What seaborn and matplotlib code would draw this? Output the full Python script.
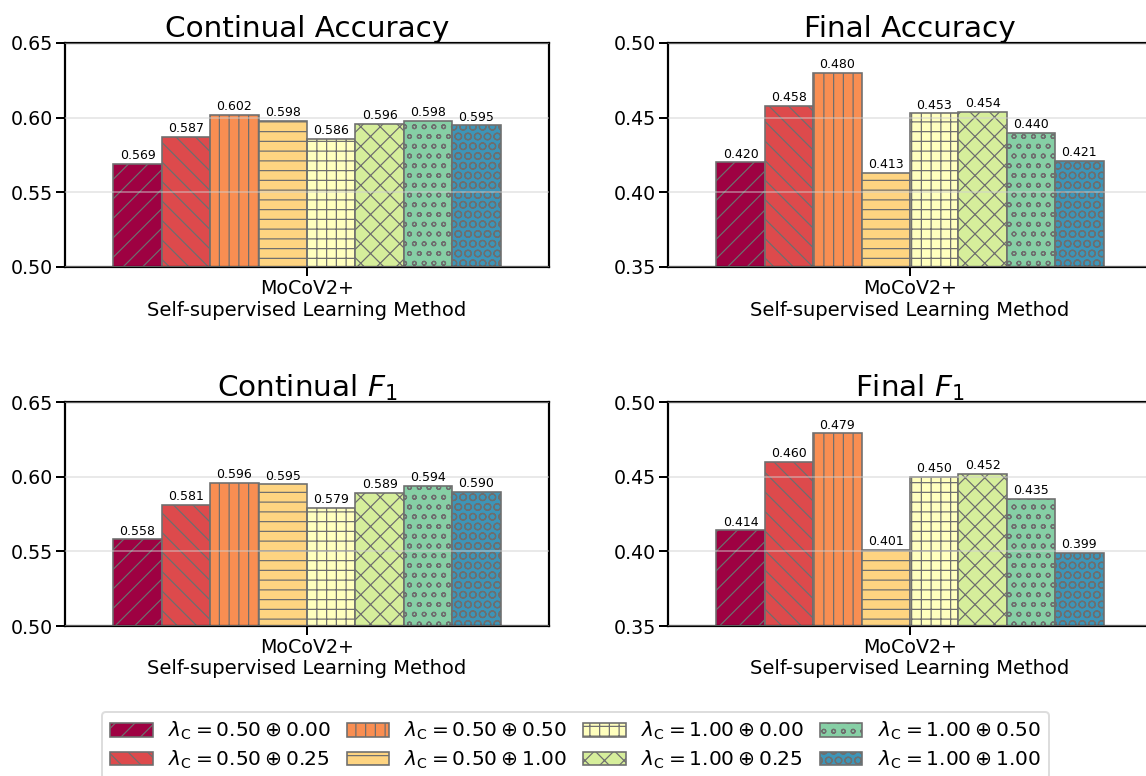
import matplotlib
matplotlib.use("Agg")
import matplotlib.pyplot as plt
import matplotlib.patches as mpatches
import seaborn as sns
import pandas as pd
import numpy as np

DPI = 117
W, H = 1146, 776

def px(v):
    return v * 72.0 / DPI

methods = ["MoCoV2+"]
configs = ["0.50 ⊕ 0.00", "0.50 ⊕ 0.25", "0.50 ⊕ 0.50", "0.50 ⊕ 1.00",
           "1.00 ⊕ 0.00", "1.00 ⊕ 0.25", "1.00 ⊕ 0.50", "1.00 ⊕ 1.00"]
legend_labels = [r"$\lambda_{\mathrm{C}} = 0.50 \oplus 0.00$", r"$\lambda_{\mathrm{C}} = 0.50 \oplus 0.25$",
                 r"$\lambda_{\mathrm{C}} = 0.50 \oplus 0.50$", r"$\lambda_{\mathrm{C}} = 0.50 \oplus 1.00$",
                 r"$\lambda_{\mathrm{C}} = 1.00 \oplus 0.00$", r"$\lambda_{\mathrm{C}} = 1.00 \oplus 0.25$",
                 r"$\lambda_{\mathrm{C}} = 1.00 \oplus 0.50$", r"$\lambda_{\mathrm{C}} = 1.00 \oplus 1.00$"]

continual_acc = [0.569, 0.587, 0.602, 0.598, 0.586, 0.596, 0.598, 0.595]
final_acc = [0.420, 0.458, 0.480, 0.413, 0.453, 0.454, 0.440, 0.421]
continual_f1 = [0.558, 0.581, 0.596, 0.595, 0.579, 0.589, 0.594, 0.590]
final_f1 = [0.414, 0.460, 0.479, 0.401, 0.450, 0.452, 0.435, 0.399]

titles = ["Continual Accuracy", "Final Accuracy", r"Continual $F_1$", r"Final $F_1$"]
ylims = [(0.50, 0.65), (0.35, 0.50), (0.50, 0.65), (0.35, 0.50)]
yticks = [[0.50, 0.55, 0.60, 0.65], [0.35, 0.40, 0.45, 0.50],
          [0.50, 0.55, 0.60, 0.65], [0.35, 0.40, 0.45, 0.50]]
hatches = ["//", "\\\\", "||", "--", "++", "xx", "oo", "OO"]
xlabel = "Self-supervised Learning Method"

sns.set_style("white")
plt.rcParams["font.family"] = ["DejaVu Sans"]
plt.rcParams["hatch.linewidth"] = 0.75
for k in ["text.color", "axes.labelcolor", "xtick.color", "ytick.color"]:
    plt.rcParams[k] = "black"
EDGE = "#6e6e6e"
plt.rcParams["hatch.color"] = EDGE

cmap = matplotlib.colormaps["Spectral"]
palette = [cmap(v) for v in np.linspace(0, 1, len(configs) + 1)[:len(configs)]]

fig = plt.figure(figsize=(W / DPI, H / DPI), dpi=DPI)
rects = [(65, 43, 484, 224), (668, 43, 484, 224), (65, 402, 484, 224), (668, 402, 484, 224)]
series = [continual_acc, final_acc, continual_f1, final_f1]

for rect, vals, title, ylim, yt in zip(rects, series, titles, ylims, yticks):
    l, t, w, h = rect
    ax = fig.add_axes([l / W, 1 - (t + h) / H, w / W, h / H])
    df = pd.DataFrame({"method": methods * len(configs), "config": configs, "value": vals})
    sns.barplot(data=df, x="method", y="value", hue="config", hue_order=configs,
                palette=palette, saturation=1, ax=ax, edgecolor=EDGE, linewidth=1.0,
                legend=False, errorbar=None, width=0.8)
    for cont, hatch in zip(ax.containers, hatches):
        for bar in cont:
            bar.set_hatch(hatch)
            bar.set_edgecolor(EDGE)
        ax.bar_label(cont, fmt="%.3f", fontsize=px(12.5), padding=1)
    ax.set_xlim(-0.5, 0.5)
    ax.set_ylim(*ylim)
    ax.set_yticks(yt)
    ax.set_yticklabels([f"{v:.2f}" for v in yt])
    ax.set_title(title, fontsize=px(29.5), pad=px(6))
    ax.set_xlabel(xlabel, fontsize=px(19.5))
    ax.set_ylabel("")
    ax.tick_params(axis="both", labelsize=px(19), length=px(9), width=px(2),
                   direction="out", bottom=True, left=True, pad=px(3))
    ax.xaxis.labelpad = px(2.5)
    for sp in ax.spines.values():
        sp.set_linewidth(px(2.2))
        sp.set_color("black")
    ax.set_axisbelow(False)
    ax.yaxis.grid(True, color="#d0d0d0", alpha=0.45, linewidth=px(2))
    ax.xaxis.grid(False)

handles = [mpatches.Patch(facecolor=c, edgecolor=EDGE, hatch=hh, linewidth=1.0)
           for c, hh in zip(palette, hatches)]
leg = fig.legend(handles, legend_labels, loc="upper center", bbox_to_anchor=(0.502, 1 - 712 / H),
                 ncol=4, fontsize=px(20.2), frameon=True, handlelength=2.1, handleheight=0.65,
                 columnspacing=0.8, handletextpad=0.75, labelspacing=0.3, borderaxespad=0,
                 fancybox=True)
leg.get_frame().set_edgecolor("#d5d5d5")
leg.get_frame().set_linewidth(px(2))

fig.savefig("out.png", dpi=DPI)
